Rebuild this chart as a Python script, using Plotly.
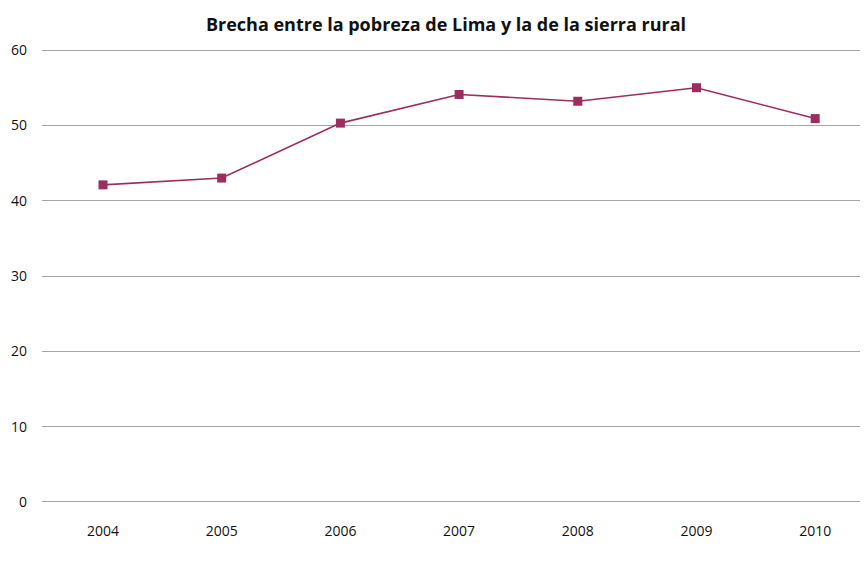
import plotly.graph_objects as go

years = ["2004", "2005", "2006", "2007", "2008", "2009", "2010"]
brecha = [42.1, 43.0, 50.3, 54.1, 53.2, 55.0, 50.9]

fig = go.Figure()
fig.add_trace(go.Scatter(
    x=years,
    y=brecha,
    mode="lines+markers",
    line=dict(color="#9B2D5F", width=1.6),
    marker=dict(symbol="square", size=9, color="#9B2D5F"),
    showlegend=False,
))

# page body has an 8px margin, so the figure is sized to fit the window
fig.update_layout(
    width=860,
    height=553,
    paper_bgcolor="white",
    plot_bgcolor="white",
    margin=dict(l=34, r=0, t=40, b=57),
    font=dict(family="Open Sans, Lato, sans-serif", size=15, color="#111"),
    title=dict(
        text="<b>Brecha entre la pobreza de Lima y la de la sierra rural</b>",
        x=0.5093, xanchor="center", y=0.9693, yanchor="middle",
        font=dict(size=18, color="#111"),
    ),
)
fig.update_xaxes(
    type="category",
    range=[-0.514, 6.445],
    showgrid=False,
    showline=False,
    zeroline=False,
    ticks="",
    ticklabelstandoff=17,
    tickfont=dict(size=14),
)
fig.update_yaxes(
    range=[-0.27, 60.27],
    tickvals=[0, 10, 20, 30, 40, 50, 60],
    showgrid=True,
    gridcolor="#a6a6a6",
    gridwidth=1,
    zeroline=False,
    showline=False,
    ticks="",
    ticklabelstandoff=14,
    tickfont=dict(size=14),
)

fig.write_html("out.html")
